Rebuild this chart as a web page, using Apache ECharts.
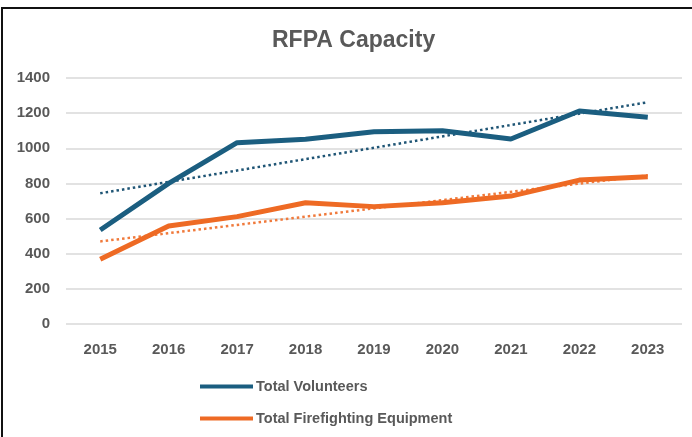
<!DOCTYPE html>
<html>
<head>
    <meta charset="utf-8">
    <title>RFPA Capacity</title>
    <script src="https://cdn.jsdelivr.net/npm/echarts@6/dist/echarts.min.js"></script>
    <style>
        body { margin: 0; background: #fff; }
        #wrap { position: relative; width: 692px; height: 437px; }
        #main { width: 692px; height: 437px; }
        #frame { position: absolute; left: 1px; top: 7px; right: 0; bottom: 0;
                 border-top: 2px solid #111; border-left: 2px solid #111; pointer-events: none; }
    </style>
</head>
<body>
    <div id="wrap">
        <div id="main"></div>
        <div id="frame"></div>
    </div>

    <script type="text/javascript">
        // data
        var years = ['2015', '2016', '2017', '2018', '2019', '2020', '2021', '2022', '2023'];
        var volunteers = [535, 800, 1032, 1051, 1094, 1100, 1053, 1212, 1176];
        var equipment = [368, 558, 611, 690, 668, 690, 728, 819, 838];
        // dotted trendline ends (2015, 2023)
        var volunteersTrend = [744, 1262];
        var equipmentTrend = [470, 846];

        var myChart = echarts.init(document.getElementById('main'));

        var font = '"Liberation Sans", Arial, sans-serif';
        var grey = '#595959';
        var blue = '#1b5e80';
        var orange = '#ee6a24';

        var option = {
            animation: false,
            title: {
                text: 'RFPA Capacity',
                left: 267,
                top: 24,
                textStyle: { fontFamily: font, fontSize: 23, fontWeight: 'bold', color: grey }
            },
            legend: {
                data: ['Total Volunteers', 'Total Firefighting Equipment'],
                orient: 'vertical',
                left: 195,
                top: 374,
                icon: 'rect',
                itemWidth: 53,
                itemHeight: 4,
                itemGap: 17,
                textStyle: { fontFamily: font, fontSize: 14.5, fontWeight: 'bold', color: grey, padding: [0, 0, 0, -2] }
            },
            grid: { left: 66, right: 10, top: 78, bottom: 113 },
            xAxis: {
                type: 'category',
                data: years,
                axisLine: { show: false },
                axisTick: { show: false },
                axisLabel: { fontFamily: font, fontSize: 15, fontWeight: 'bold', color: grey, margin: 18 }
            },
            yAxis: {
                type: 'value',
                min: 0,
                max: 1400,
                interval: 200,
                axisLabel: {
                    fontFamily: font, fontSize: 15, fontWeight: 'bold', color: grey, margin: 16,
                    formatter: function (v) { return String(v); }
                },
                splitLine: { lineStyle: { color: '#d9d9d9', width: 1.5 } }
            },
            series: [
                {
                    name: 'Volunteers trend',
                    type: 'line',
                    data: [[years[0], volunteersTrend[0]], [years[8], volunteersTrend[1]]],
                    symbol: 'none',
                    z: 1,
                    lineStyle: { color: '#1f5575', width: 2.5, type: [2.5, 3] }
                },
                {
                    name: 'Equipment trend',
                    type: 'line',
                    data: [[years[0], equipmentTrend[0]], [years[8], equipmentTrend[1]]],
                    symbol: 'none',
                    z: 1,
                    lineStyle: { color: '#f07a3c', width: 2.5, type: [2.5, 3] }
                },
                {
                    name: 'Total Volunteers',
                    type: 'line',
                    data: volunteers,
                    symbol: 'none',
                    z: 3,
                    color: blue,
                    lineStyle: { color: blue, width: 5 }
                },
                {
                    name: 'Total Firefighting Equipment',
                    type: 'line',
                    data: equipment,
                    symbol: 'none',
                    z: 2,
                    color: orange,
                    lineStyle: { color: orange, width: 5 }
                }
            ]
        };

        myChart.setOption(option);
    </script>
</body>
</html>
